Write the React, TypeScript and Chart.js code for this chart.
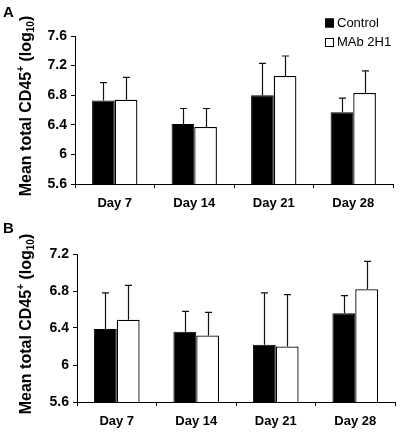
import React, { useEffect, useRef } from 'react';
import { Chart, registerables } from 'chart.js';

Chart.register(...registerables);

const categories = ['Day 7', 'Day 14', 'Day 21', 'Day 28'];
const seriesNames = ['Control', 'MAb 2H1'];

// Panel A
const controlA = [6.73, 6.41, 6.8, 6.57];
const controlAErr = [0.24, 0.21, 0.43, 0.19];
const mabA = [6.74, 6.37, 7.06, 6.83];
const mabAErr = [0.3, 0.25, 0.27, 0.3];
const yTicksA = [5.6, 6, 6.4, 6.8, 7.2, 7.6];

// Panel B
const controlB = [6.39, 6.36, 6.22, 6.56];
const controlBErr = [0.39, 0.22, 0.56, 0.19];
const mabB = [6.49, 6.32, 6.2, 6.82];
const mabBErr = [0.37, 0.25, 0.56, 0.3];
const yTicksB = [5.6, 6, 6.4, 6.8, 7.2];

const FONT = "'Liberation Sans', Arial, Helvetica, sans-serif";

const errorBarPlugin = {
  id: 'errorBars',
  afterDatasetsDraw(chart: any) {
    const ctx = chart.ctx;
    const y = chart.scales.y;
    ctx.save();
    ctx.strokeStyle = '#111';
    ctx.lineWidth = 1.2;
    chart.data.datasets.forEach((ds: any, i: number) => {
      const meta = chart.getDatasetMeta(i);
      if (!ds.errors) return;
      meta.data.forEach((bar: any, j: number) => {
        const v = ds.data[j];
        const top = y.getPixelForValue(v + ds.errors[j]);
        const x = Math.round(bar.x) + 0.5;
        ctx.beginPath();
        ctx.moveTo(x, bar.y);
        ctx.lineTo(x, top);
        ctx.moveTo(x - 3.5, top);
        ctx.lineTo(x + 3.5, top);
        ctx.stroke();
      });
    });
    ctx.restore();
  },
};

const decorPlugin = {
  id: 'decor',
  afterDraw(chart: any, _args: any, opts: any) {
    const ctx = chart.ctx;
    const area = chart.chartArea;
    ctx.save();
    ctx.fillStyle = '#000';
    // panel letter
    ctx.font = `bold 15px ${FONT}`;
    ctx.textBaseline = 'alphabetic';
    ctx.textAlign = 'left';
    ctx.fillText(opts.letter, 3, 17);

    // y title with superscript / subscript
    const parts = [
      { t: 'Mean total CD45', f: `bold 16px ${FONT}`, dy: 0 },
      { t: '+', f: `bold 10px ${FONT}`, dy: -7 },
      { t: ' (log', f: `bold 16px ${FONT}`, dy: 0 },
      { t: '10', f: `bold 10px ${FONT}`, dy: 3 },
      { t: ')', f: `bold 16px ${FONT}`, dy: 0 },
    ];
    let total = 0;
    parts.forEach((p) => {
      ctx.font = p.f;
      total += ctx.measureText(p.t).width;
    });
    const cy = (area.top + area.bottom) / 2 - 4;
    ctx.translate(31, cy);
    ctx.rotate(-Math.PI / 2);
    let x = -total / 2;
    parts.forEach((p) => {
      ctx.font = p.f;
      ctx.fillText(p.t, x, p.dy);
      x += ctx.measureText(p.t).width;
    });
    ctx.restore();

    // legend
    if (opts.legend) {
      ctx.save();
      ctx.font = `13px ${FONT}`;
      ctx.textBaseline = 'middle';
      ctx.textAlign = 'left';
      chart.data.datasets.forEach((ds: any, i: number) => {
        const cyL = 23 + i * 19.5;
        ctx.fillStyle = ds.backgroundColor;
        ctx.fillRect(325, cyL - 4.5, 9, 9);
        ctx.strokeStyle = '#000';
        ctx.lineWidth = 1;
        ctx.strokeRect(325.5, cyL - 4, 8, 8);
        ctx.fillStyle = '#000';
        ctx.fillText(ds.label, 337, cyL);
      });
      ctx.restore();
    }
  },
};

function makeConfig(
  letter: string,
  control: number[],
  controlErr: number[],
  mab: number[],
  mabErr: number[],
  yTicks: number[],
  legend: boolean,
  leftWidth: number,
  bottomHeight: number,
  padTop: number,
  padRight: number,
  catPct: number
): any {
  return {
    type: 'bar',
    data: {
      labels: categories,
      datasets: [
        {
          label: seriesNames[0],
          data: control,
          errors: controlErr,
          backgroundColor: '#000',
          borderColor: '#000',
          borderWidth: 1,
          barPercentage: 1,
          categoryPercentage: catPct,
        },
        {
          label: seriesNames[1],
          data: mab,
          errors: mabErr,
          backgroundColor: '#fff',
          borderColor: '#000',
          borderWidth: 1.3,
          barPercentage: 1,
          categoryPercentage: catPct,
        },
      ],
    },
    options: {
      responsive: false,
      animation: false,
      devicePixelRatio: 1,
      layout: { padding: { left: 0, top: padTop, right: padRight, bottom: 0 } },
      plugins: {
        legend: { display: false },
        tooltip: { enabled: false },
        decor: { letter, legend },
      },
      scales: {
        x: {
          afterFit: (s: any) => {
            s.height = bottomHeight;
          },
          ticks: { color: '#000', font: { size: 13, weight: 'bold', family: FONT }, padding: 8, maxRotation: 0 },
          grid: { drawOnChartArea: false, color: '#000', tickLength: 4, offset: true, lineWidth: 1 },
          border: { color: '#000', width: 1 },
        },
        y: {
          beginAtZero: false,
          min: yTicks[0],
          max: yTicks[yTicks.length - 1],
          afterBuildTicks: (s: any) => {
            s.ticks = yTicks.map((v) => ({ value: v }));
          },
          afterFit: (s: any) => {
            s.width = leftWidth;
          },
          ticks: {
            color: '#000',
            font: { size: 14, weight: 'bold', family: FONT },
            padding: 4,
            callback: (v: any) => String(v),
          },
          grid: { drawOnChartArea: false, color: '#000', tickLength: 4, lineWidth: 1 },
          border: { color: '#000', width: 1 },
        },
      },
    },
    plugins: [errorBarPlugin, decorPlugin],
  };
}

export default function App() {
  const refA = useRef<HTMLCanvasElement>(null);
  const refB = useRef<HTMLCanvasElement>(null);

  useEffect(() => {
    Chart.defaults.font.family = FONT;
    Chart.defaults.color = '#000';
    const a = new Chart(
      refA.current as HTMLCanvasElement,
      makeConfig('A', controlA, controlAErr, mabA, mabAErr, yTicksA, true, 75, 32, 36, 7, 0.57)
    );
    const b = new Chart(
      refB.current as HTMLCanvasElement,
      makeConfig('B', controlB, controlBErr, mabB, mabBErr, yTicksB, false, 77, 31, 38, 5, 0.575)
    );
    return () => {
      a.destroy();
      b.destroy();
    };
  }, []);

  return (
    <div style={{ position: 'absolute', left: 0, top: 0, width: 400, height: 433, background: '#fff' }}>
      <canvas ref={refA} width={400} height={216} style={{ position: 'absolute', left: 0, top: 0, width: 400, height: 216 }} />
      <canvas ref={refB} width={400} height={217} style={{ position: 'absolute', left: 0, top: 216, width: 400, height: 217 }} />
    </div>
  );
}
